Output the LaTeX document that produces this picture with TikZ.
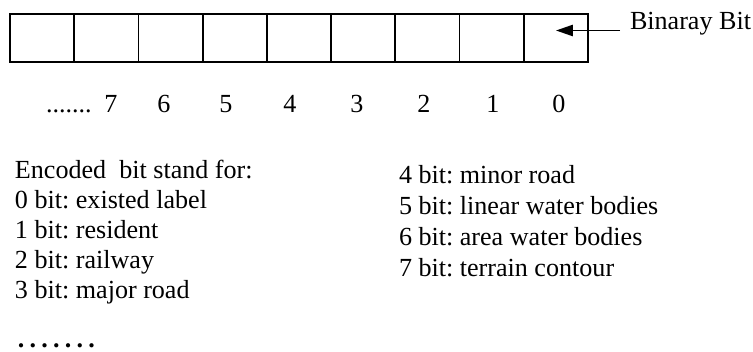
\documentclass[tikz,border=0pt]{standalone}
\usepackage{fontspec}
\setmainfont{Liberation Serif}
\usetikzlibrary{arrows.meta}
\newcommand\bolddot{\textbf{.}\kern2.4pt}
\frenchspacing
\begin{document}
\begin{tikzpicture}[x=0.46pt,y=-0.46pt,
  font=\fontsize{12pt}{14pt}\selectfont\frenchspacing,
  cell/.style={draw,line width=0.8pt,minimum width=29.55pt,minimum height=22.08pt,inner sep=0pt,outer sep=0pt,anchor=north west},
  txt/.style={anchor=base west,inner sep=0pt,outer sep=0pt},
  num/.style={anchor=base,inner sep=0pt,outer sep=0pt},
  arr/.style={line width=0.8pt,-{Triangle[length=7.8pt,width=5.2pt]}}]
\useasboundingbox (0,0) rectangle (753,351);
% register cells
\foreach \i in {0,...,8} \node[cell] (c\i) at ({10+\i*64.22},14) {};
% arrow and label
\node[txt] (bb) at (630,29) {Binaray Bit};
\coordinate (tail) at (620,30.5);
\coordinate (tip) at (556,30.5);
\draw[arr] (tail) -- (tip);
% bit numbers
\node[txt] (ndots) at (46,112) {.......};
\node[num] (n7) at (111,112) {7};
\node[num] (n6) at (164,112) {6};
\node[num] (n5) at (226,112) {5};
\node[num] (n4) at (290,112) {4};
\node[num] (n3) at (357,112) {3};
\node[num] (n2) at (424,112) {2};
\node[num] (n1) at (493,112) {1};
\node[num] (n0) at (559,112) {0};
% legend left
\node[txt] (l0) at (15,178) {Encoded\ \ bit stand for:};
\node[txt] (l1) at (15,208) {0 bit: existed label};
\node[txt] (l2) at (15,238) {1 bit: resident};
\node[txt] (l3) at (15,268) {2 bit: railway};
\node[txt] (l4) at (15,298) {3 bit: major road};
% legend right
\node[txt] (r1) at (399,183) {4 bit: minor road};
\node[txt] (r2) at (399,214) {5 bit: linear water bodies};
\node[txt] (r3) at (399,245) {6 bit: area water bodies};
\node[txt] (r4) at (399,276) {7 bit: terrain contour};
% trailing dots
\node[txt] (tdots) at (18,347.5) {\bolddot\bolddot\bolddot\bolddot\bolddot\bolddot\textbf{.}};
\end{tikzpicture}
\end{document}
